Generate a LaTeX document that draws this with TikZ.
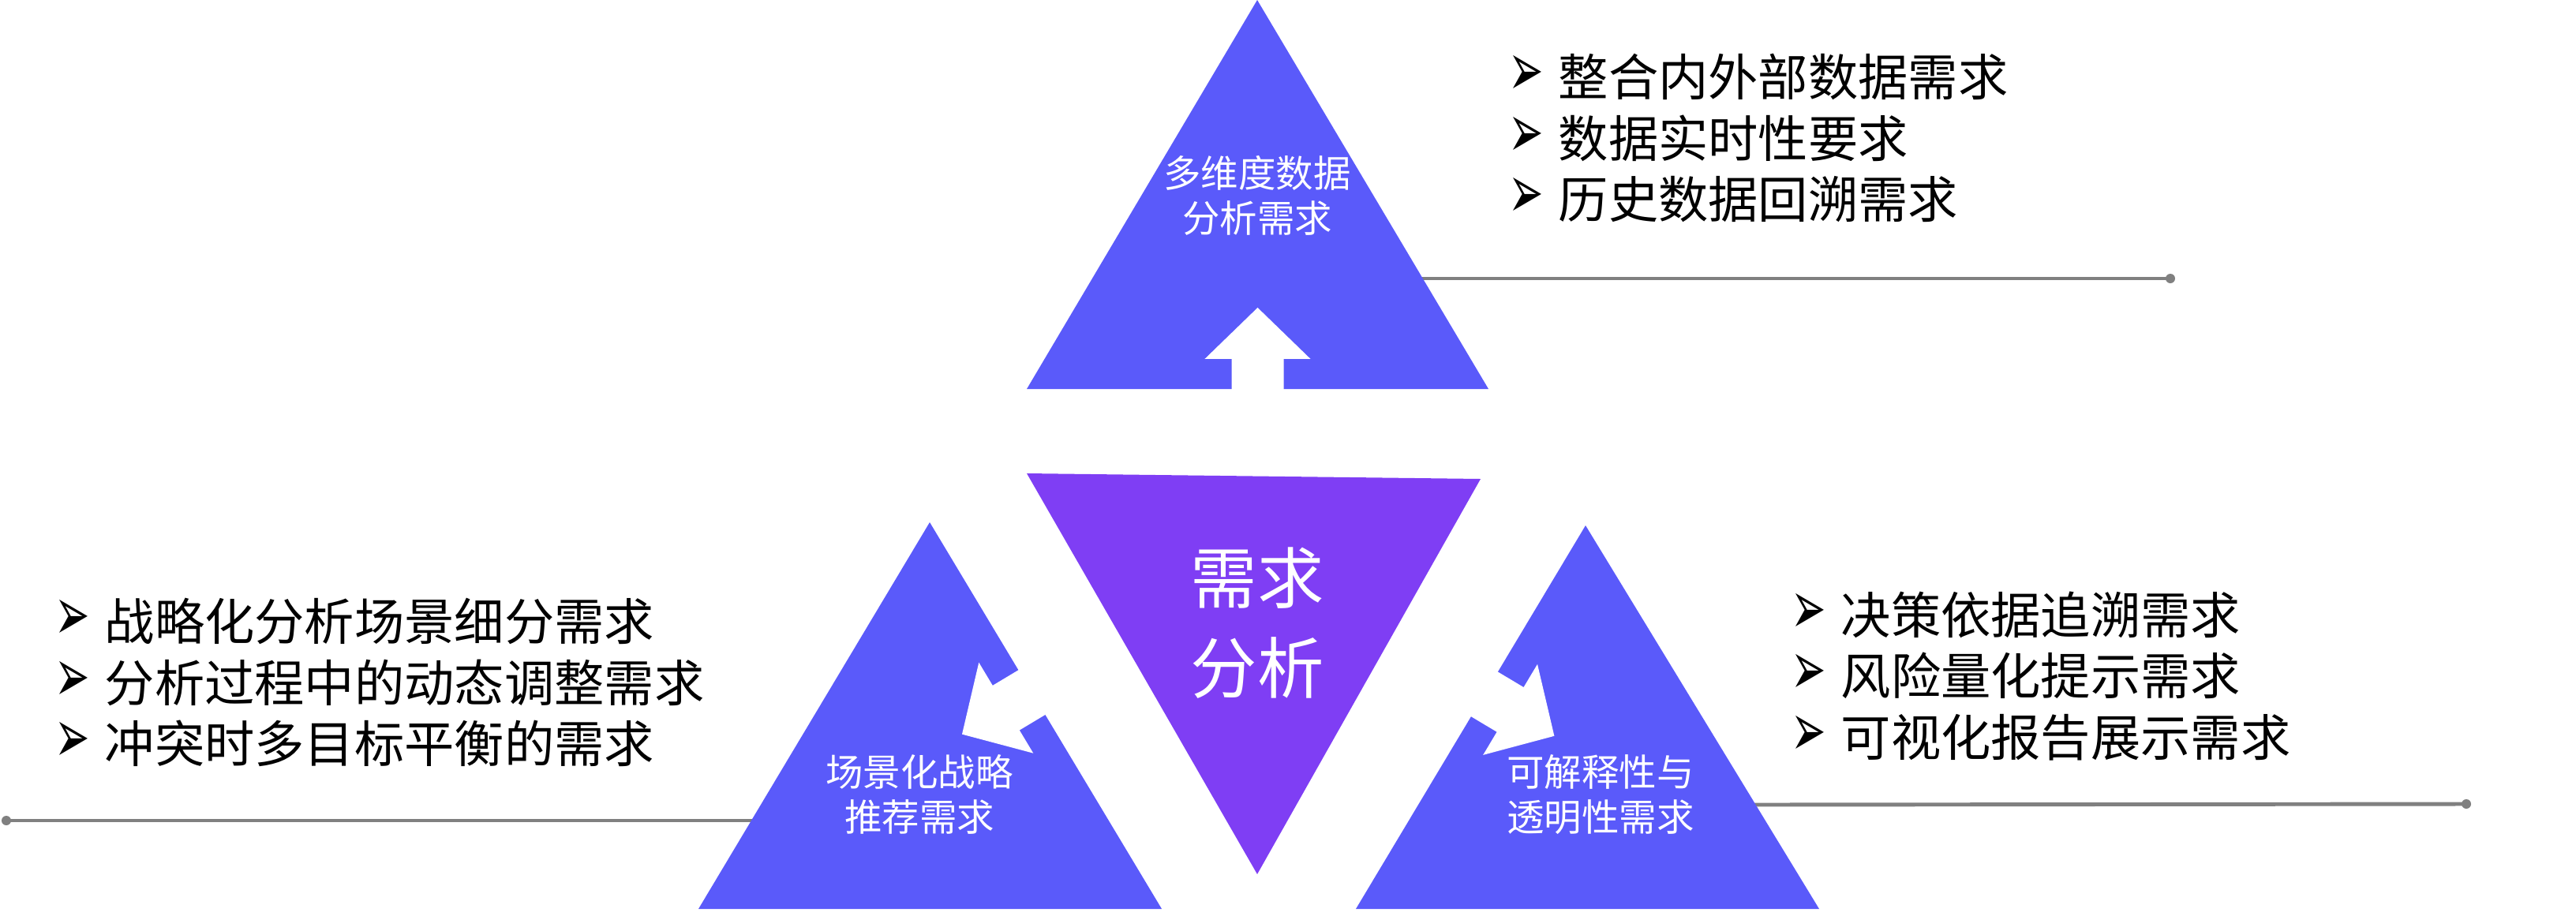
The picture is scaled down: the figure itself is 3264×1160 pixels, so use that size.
\documentclass[tikz,border=0pt]{standalone}
\usepackage{fontspec}
\usepackage{graphicx}
\setmainfont{Noto Sans CJK SC}
\newfontfamily\dingfont{DejaVu Sans}
\usetikzlibrary{calc}

\definecolor{triblue}{RGB}{90,90,250}
\definecolor{tripurple}{RGB}{127,62,244}
\definecolor{linegray}{RGB}{128,128,128}

\newcommand{\bul}{\makebox[0.63cm][l]{\dingfont\fontsize{21}{21}\selectfont\scalebox{0.72}[1.3]{➢}}}

% white arrow cut into a triangle edge #1--#2 at fraction #3
\newcommand{\cutarrow}[3]{%
  \coordinate (m) at ($(#1)!#3!(#2)$);
  \coordinate (t) at ($(m)!1.03cm!90:(#2)$);
  \coordinate (h) at ($(m)!0.38cm!90:(#2)$);
  \coordinate (o) at ($(m)!0.04cm!-90:(#2)$);
  \fill[white] ($(o)!0.33cm!90:(t)$) -- ($(h)!0.33cm!90:(t)$) -- ($(h)!0.67cm!90:(t)$) -- (t)
    -- ($(h)!0.67cm!-90:(t)$) -- ($(h)!0.33cm!-90:(t)$) -- ($(o)!0.33cm!-90:(t)$) -- cycle;
}

\begin{document}
\begin{tikzpicture}[x=0.01cm,y=-0.01cm,
  tri/.style={fill=triblue},
  lbl/.style={text=white,align=center,font=\fontsize{13.5}{16.2}\selectfont,inner sep=0pt},
  lst/.style={align=left,anchor=west,font=\fontsize{18}{22}\selectfont,inner sep=0pt},
  lead/.style={draw=linegray,line width=1.4pt},
  dot/.style={fill=linegray}]
\useasboundingbox (0,0) rectangle (3264,1160);

% triangle corners
\coordinate (topA) at (1593,0);
\coordinate (topL) at (1301,493);
\coordinate (topR) at (1886,493);
\coordinate (lftA) at (1178,662);
\coordinate (lftL) at (885,1152);
\coordinate (lftR) at (1472,1152);
\coordinate (rgtA) at (2009,666);
\coordinate (rgtL) at (1718,1152);
\coordinate (rgtR) at (2305,1152);

% leader lines
\coordinate (topIn) at (1790,353);
\coordinate (topEnd) at (2750,353);
\coordinate (lftIn) at (965,1040);
\coordinate (lftEnd) at (8,1040);
\coordinate (rgtIn) at (2212,1020);
\coordinate (rgtEnd) at (3125,1019);
\draw[lead] (topIn) -- (topEnd);
\draw[lead] (lftIn) -- (lftEnd);
\draw[lead] (rgtIn) -- (rgtEnd);
\fill[dot] (topEnd) circle (0.06cm);
\fill[dot] (lftEnd) circle (0.06cm);
\fill[dot] (rgtEnd) circle (0.06cm);

% triangles
\fill[tri] (topA) -- (topL) -- (topR) -- cycle;
\fill[tri] (lftA) -- (lftL) -- (lftR) -- cycle;
\fill[tri] (rgtA) -- (rgtL) -- (rgtR) -- cycle;
\fill[tripurple] (1301,600) -- (1876,607) -- (1593,1108) -- cycle;

\cutarrow{topL}{topR}{0.5}
\cutarrow{lftR}{lftA}{0.56}
\cutarrow{rgtA}{rgtL}{0.44}

% labels
\node[lbl] (top) at (1593,248) {多维度数据\\分析需求};
\node[lbl] (lft) at (1165,1007) {场景化战略\\推荐需求};
\node[lbl] (rgt) at (2028,1007) {可解释性与\\透明性需求};
\node[lbl,font=\fontsize{24}{32.4}\selectfont] (core) at (1593,790) {需求\\分析};

% bullet lists
\node[lst] (toplist) at (1911,175) {\bul 整合内外部数据需求\\\bul 数据实时性要求\\\bul 历史数据回溯需求};
\node[lst] (lftlist) at (69,865) {\bul 战略化分析场景细分需求\\\bul 分析过程中的动态调整需求\\\bul 冲突时多目标平衡的需求};
\node[lst] (rgtlist) at (2269,857) {\bul 决策依据追溯需求\\\bul 风险量化提示需求\\\bul 可视化报告展示需求};
\end{tikzpicture}
\end{document}
